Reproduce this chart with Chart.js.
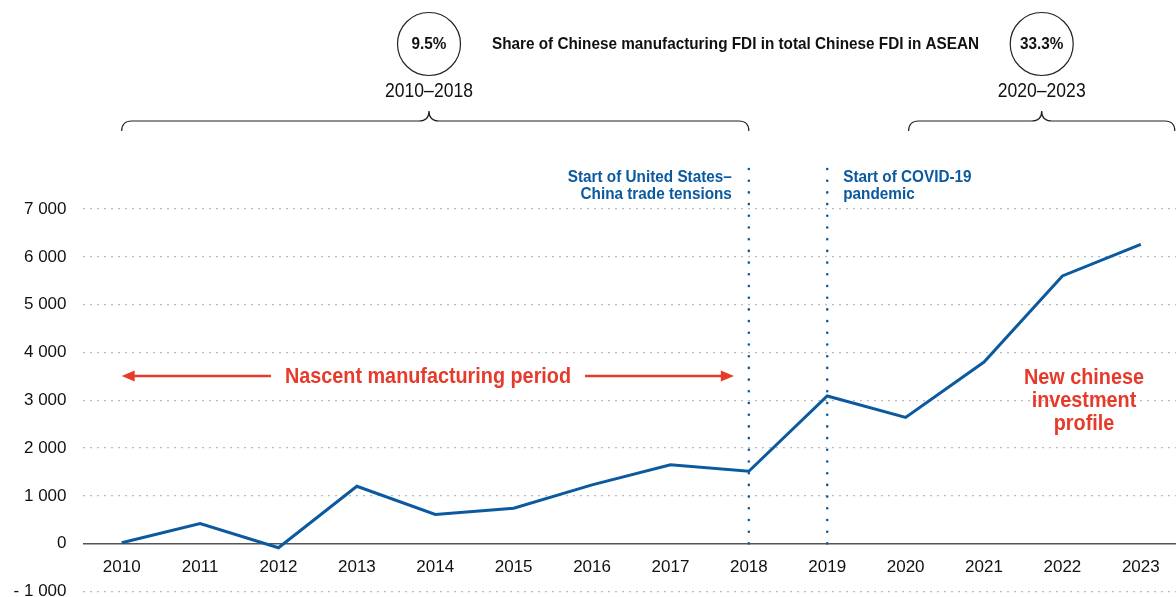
<!DOCTYPE html>
<html>
<head>
<meta charset="utf-8">
<script src="https://cdn.jsdelivr.net/npm/chart.js@4"></script>
<style>
  html, body { margin: 0; padding: 0; background: #fff; overflow: hidden; }
  #wrap { width: 1180px; height: 616px; position: relative; }
</style>
</head>
<body>
<div id="wrap"><canvas id="fdi"></canvas></div>
<script>
// Chinese manufacturing FDI in ASEAN, millions of dollars
const years = ['2010', '2011', '2012', '2013', '2014', '2015', '2016',
               '2017', '2018', '2019', '2020', '2021', '2022', '2023'];
const fdiValues = [20, 420, -85, 1200, 610, 740, 1230, 1650, 1515, 3090, 2640, 3800, 5600, 6260];
const yTicks = [-1000, 0, 1000, 2000, 3000, 4000, 5000, 6000, 7000];

const periods = [
  {from: '2010', to: '2018', share: '9.5%', label: '2010–2018'},
  {from: '2020', to: '2023', share: '33.3%', label: '2020–2023'}
];
const events = [
  {year: '2018', lines: ['Start of United States–', 'China trade tensions'], align: 'right'},
  {year: '2019', lines: ['Start of COVID-19', 'pandemic'], align: 'left'}
];

const BLUE = '#0b5aa0';
const RED = '#e63a2b';
const SANS = '"Liberation Sans", Arial, Helvetica, sans-serif';

function spaced(n) {
  return String(n).replace(/\B(?=(\d{3})+(?!\d))/g, ' ');
}

// squeezed text, to get a condensed face out of a regular one
function ctext(ctx, str, x, y, size, weight, align) {
  ctx.save();
  ctx.font = weight + ' ' + size + 'px ' + SANS;
  ctx.textAlign = align;
  ctx.textBaseline = 'middle';
  ctx.translate(x, y);
  ctx.scale(0.9, 1);
  ctx.fillText(str, 0, 0);
  ctx.restore();
}

function drawBrace(ctx, x1, x2, xm, y, r) {
  ctx.beginPath();
  ctx.moveTo(x1, y + r);
  ctx.quadraticCurveTo(x1, y, x1 + r, y);
  ctx.lineTo(xm - r, y);
  ctx.quadraticCurveTo(xm, y, xm, y - r);
  ctx.quadraticCurveTo(xm, y, xm + r, y);
  ctx.lineTo(x2 - r, y);
  ctx.quadraticCurveTo(x2, y, x2, y + r);
  ctx.stroke();
}

function arrow(ctx, from, to, y) {
  const dir = Math.sign(to - from);
  ctx.beginPath();
  ctx.moveTo(from, y);
  ctx.lineTo(to - dir * 10, y);
  ctx.stroke();
  ctx.beginPath();
  ctx.moveTo(to, y);
  ctx.lineTo(to - dir * 13, y - 5.5);
  ctx.lineTo(to - dir * 13, y + 5.5);
  ctx.closePath();
  ctx.fill();
}

const overlays = {
  id: 'overlays',
  afterDatasetsDraw(chart) {
    const {ctx, scales: {x, y}} = chart;
    const px = yr => x.getPixelForValue(years.indexOf(yr));
    ctx.save();

    // event markers
    events.forEach(ev => {
      const ex = px(ev.year);
      ctx.strokeStyle = BLUE;
      ctx.lineWidth = 2.6;
      ctx.lineCap = 'round';
      ctx.setLineDash([0, 11.7]);
      ctx.beginPath();
      ctx.moveTo(ex, 169);
      ctx.lineTo(ex, y.getPixelForValue(0));
      ctx.stroke();
      ctx.setLineDash([]);

      ctx.fillStyle = BLUE;
      const tx = ev.align === 'right' ? ex - 17 : ex + 16;
      ev.lines.forEach((t, i) => ctext(ctx, t, tx, 177 + i * 17, 17, 'bold', ev.align));
    });

    // period braces, share circles and year ranges
    ctx.strokeStyle = '#222';
    ctx.fillStyle = '#111';
    ctx.lineWidth = 1.2;
    ctx.lineCap = 'butt';
    periods.forEach((p, i) => {
      const x1 = i === 0 ? px(p.from) : px(p.from) + 3;
      const x2 = i === 0 ? px(p.to) : px(p.to) + 34;
      const xm = i === 0 ? 429 : (x1 + x2) / 2;
      drawBrace(ctx, x1, x2, xm, 121, 10);

      ctx.beginPath();
      ctx.arc(xm, 44, 31.5, 0, Math.PI * 2);
      ctx.stroke();

      ctext(ctx, p.share, xm, 44, 17, 'bold', 'center');
      ctext(ctx, p.label, xm, 92, 19.5, 'normal', 'center');
    });

    ctext(ctx, 'Share of Chinese manufacturing FDI in total Chinese FDI in ASEAN', 492, 44, 17, 'bold', 'left');

    // period descriptions
    ctx.fillStyle = RED;
    ctx.strokeStyle = RED;
    ctx.lineWidth = 2.5;
    ctext(ctx, 'Nascent manufacturing period', 428, 377, 22, 'bold', 'center');
    arrow(ctx, 271, px('2010'), 376);
    arrow(ctx, 585, px('2018') - 15, 376);

    ['New chinese', 'investment', 'profile'].forEach((t, i) => {
      ctext(ctx, t, 1084, 378 + i * 23, 22, 'bold', 'center');
    });

    ctx.restore();
  }
};

new Chart(document.getElementById('fdi'), {
  type: 'line',
  data: {
    labels: years,
    datasets: [{
      data: fdiValues,
      borderColor: BLUE,
      borderWidth: 3,
      pointRadius: 0,
      tension: 0,
      fill: false
    }]
  },
  options: {
    responsive: true,
    maintainAspectRatio: false,
    animation: false,
    layout: {padding: {top: 209, left: 2, right: 0, bottom: 0}},
    plugins: {legend: {display: false}, tooltip: {enabled: false}},
    scales: {
      x: {
        type: 'category',
        offset: true,
        position: {y: 0},
        grid: {display: false},
        border: {display: false},
        ticks: {
          color: '#111',
          padding: 5,
          maxRotation: 0,
          font: {family: SANS, size: 17}
        }
      },
      y: {
        min: -1000,
        max: 7000,
        afterBuildTicks(scale) {
          scale.ticks = yTicks.map(v => ({value: v}));
        },
        afterFit(scale) { scale.width = 80.5; },
        grid: {
          drawTicks: false,
          color: c => (c.tick && c.tick.value === 0) ? '#555' : '#bbb',
          lineWidth: c => (c.tick && c.tick.value === 0) ? 1.6 : 1.2
        },
        border: {
          display: false,
          dash: c => (c.tick && c.tick.value === 0) ? [] : [2, 5]
        },
        ticks: {
          color: '#111',
          padding: 16,
          font: {family: SANS, size: 17, lineHeight: 1},
          callback: v => v < 0 ? '- ' + spaced(-v) : spaced(v)
        }
      }
    }
  },
  plugins: [overlays]
});
</script>
</body>
</html>
